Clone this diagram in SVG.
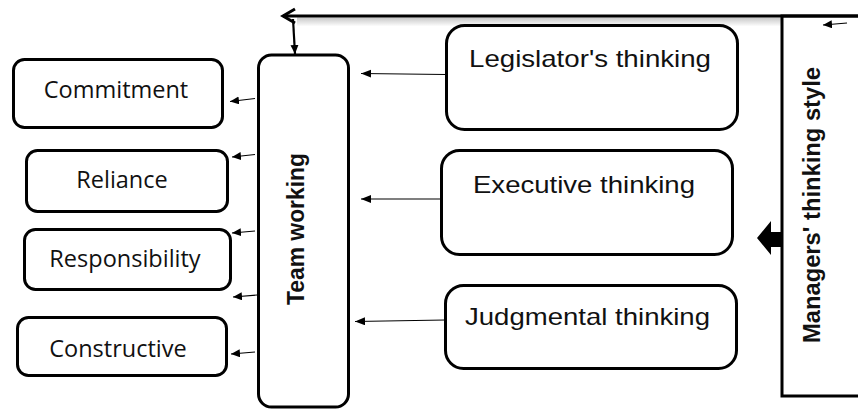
<svg xmlns="http://www.w3.org/2000/svg" width="858" height="410" viewBox="0 0 858 410">
  <defs>
    <marker id="ah" markerUnits="userSpaceOnUse" markerWidth="12" markerHeight="10" refX="10" refY="4" orient="auto">
      <path d="M0,0 L10,4 L0,8 Z" fill="#000"/>
    </marker>
    <marker id="ahd" markerUnits="userSpaceOnUse" markerWidth="12" markerHeight="10" refX="9" refY="4" orient="auto">
      <path d="M0,0 L9,4 L0,8 Z" fill="#000"/>
    </marker>
    <linearGradient id="shade" x1="0" y1="0" x2="0" y2="1">
      <stop offset="0" stop-color="#999" stop-opacity="0.55"/>
      <stop offset="1" stop-color="#999" stop-opacity="0"/>
    </linearGradient>
    <style>
      .box { fill: #fff; stroke: #000; stroke-width: 3; }
      .lt { font-family: "Open Sans", "Noto Sans", sans-serif; font-size: 23.5px; fill: #111; text-anchor: middle; }
      .rt { font-family: "Liberation Sans", Arial, sans-serif; font-size: 24px; fill: #111; text-anchor: middle; }
      .vt { font-family: "Liberation Sans", Arial, sans-serif; font-size: 24px; font-weight: bold; fill: #111; text-anchor: middle; }
      .thin { stroke: #000; stroke-width: 1.2; fill: none; }
    </style>
  </defs>

  <rect x="0" y="0" width="858" height="410" fill="#fff"/>

  <!-- shadow under top line -->
  <rect x="297" y="17.5" width="484" height="9" fill="url(#shade)"/>

  <g id="managers">
    <path d="M858,16 L782,16 L782,396 L858,396" fill="none" stroke="#000" stroke-width="3"/>
    <text class="vt" transform="translate(820,205) rotate(-90)" textLength="276" lengthAdjust="spacingAndGlyphs">Managers' thinking style</text>
  </g>

  <g id="team-working">
    <rect class="box" x="258.5" y="55" width="90" height="352" rx="13"/>
    <text class="vt" transform="translate(304,229) rotate(-90)" textLength="152" lengthAdjust="spacingAndGlyphs">Team working</text>
  </g>

  <g id="commitment">
    <rect class="box" x="13.5" y="59.5" width="209" height="68" rx="11"/>
    <text class="lt" x="116" y="98">Commitment</text>
  </g>
  <g id="reliance">
    <rect class="box" x="26.5" y="150.5" width="201" height="61" rx="11"/>
    <text class="lt" x="122" y="188">Reliance</text>
  </g>
  <g id="responsibility">
    <rect class="box" x="24.5" y="229.5" width="206" height="60" rx="11"/>
    <text class="lt" x="125" y="267">Responsibility</text>
  </g>
  <g id="constructive">
    <rect class="box" x="17.5" y="317.5" width="209" height="58" rx="11"/>
    <text class="lt" x="118" y="357">Constructive</text>
  </g>

  <g id="legislator">
    <rect class="box" x="446.5" y="25.5" width="291" height="104" rx="18"/>
    <text class="rt" x="590" y="67" textLength="242" lengthAdjust="spacingAndGlyphs">Legislator's thinking</text>
  </g>
  <g id="executive">
    <rect class="box" x="441.5" y="150.5" width="291" height="104" rx="18"/>
    <text class="rt" x="584" y="193" textLength="222" lengthAdjust="spacingAndGlyphs">Executive thinking</text>
  </g>
  <g id="judgmental">
    <rect class="box" x="445.5" y="285.5" width="291" height="83" rx="18"/>
    <text class="rt" x="587.5" y="325" textLength="245" lengthAdjust="spacingAndGlyphs">Judgmental thinking</text>
  </g>

  <g id="connectors">
    <!-- top feedback line with open arrowhead -->
    <line x1="858" y1="16" x2="283" y2="16" stroke="#000" stroke-width="3"/>
    <polyline points="295,9 283,16 295,23" fill="none" stroke="#000" stroke-width="3" stroke-linejoin="miter"/>
    <!-- down arrow into Team working -->
    <line x1="293" y1="19" x2="295" y2="54" stroke="#000" stroke-width="2.2" marker-end="url(#ahd)"/>
    <!-- thick block arrow from Managers' box -->
    <polygon points="757,238 771,221 771,232 782,232 782,247 771,247 771,255" fill="#000"/>
    <!-- small arrow top right -->
    <line class="thin" x1="847" y1="23" x2="823" y2="25" marker-end="url(#ahd)"/>
    <!-- thinking styles into Team working -->
    <line class="thin" x1="446" y1="74.5" x2="361" y2="73.5" marker-end="url(#ah)"/>
    <line class="thin" x1="441" y1="199" x2="361" y2="199" marker-end="url(#ah)"/>
    <line class="thin" x1="445" y1="320" x2="355" y2="321.5" marker-end="url(#ah)"/>
    <!-- Team working to outcomes -->
    <line class="thin" x1="255" y1="98.5" x2="230" y2="101.5" marker-end="url(#ahd)"/>
    <line class="thin" x1="255" y1="154.5" x2="232" y2="157" marker-end="url(#ahd)"/>
    <line class="thin" x1="255" y1="231" x2="232" y2="233" marker-end="url(#ahd)"/>
    <line class="thin" x1="257" y1="295" x2="233" y2="297" marker-end="url(#ahd)"/>
    <line class="thin" x1="255" y1="352" x2="231" y2="354" marker-end="url(#ahd)"/>
  </g>
</svg>
